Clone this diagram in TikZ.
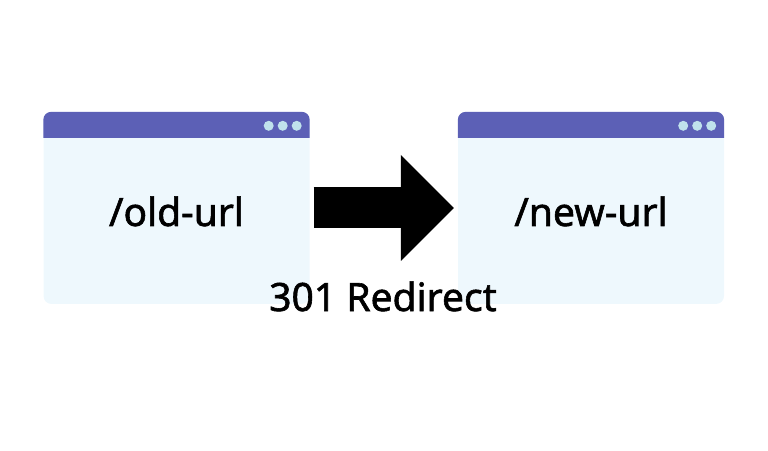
\documentclass[tikz,border=0pt]{standalone}
\usepackage{fontspec}
\setmainfont{Noto Sans}[FakeBold=1.5]
\usetikzlibrary{calc,arrows.meta}
\definecolor{winbody}{RGB}{238,248,253}
\definecolor{winbar}{RGB}{92,96,182}
\definecolor{windot}{RGB}{192,226,236}

\begin{document}
\begin{tikzpicture}[x=1pt,y=1pt]
\tikzset{
% browser window body and its title bar
window/.style={rectangle,fill=winbody,rounded corners=8,minimum width=266,minimum height=192,inner sep=0},
bar/.style={fill=winbar},
dot/.style={circle,fill=windot,inner sep=0,minimum size=10},
url/.style={font=\fontsize{39}{44}\selectfont,anchor=base}
}
\useasboundingbox (0,0) rectangle (768,450);

% The windows
\node(old)[window] at (176.5,242) {};
\node(new)[window] at (591,242) {};

% title bars with three dots
\foreach \w in {old,new}{
\fill[bar] ($(\w.north west)+(0,-26)$) [rounded corners=8] -- (\w.north west) -- (\w.north east) [sharp corners] -- ($(\w.north east)+(0,-26)$) -- cycle;
\node(\w dot3)[dot] at ($(\w.north east)+(-13,-14)$) {};
\node(\w dot2)[dot] at ($(\w dot3.center)+(-14,0)$) {};
\node(\w dot1)[dot] at ($(\w dot3.center)+(-28,0)$) {};
}

% the urls
\node(oldurl)[url] at ($(old.center)+(0,-18)$) {/old-url};
\node(newurl)[url] at ($(new.center)+(0,-18)$) {/new-url};

% redirect arrow
\draw[line width=41,-{Triangle[length=53,width=106,line width=0]}] ($(old.east)+(4,0)$) -- ($(new.west)+(-4,0)$);
\node(label)[url] at (383,139) {301 Redirect};
\end{tikzpicture}
\end{document}
